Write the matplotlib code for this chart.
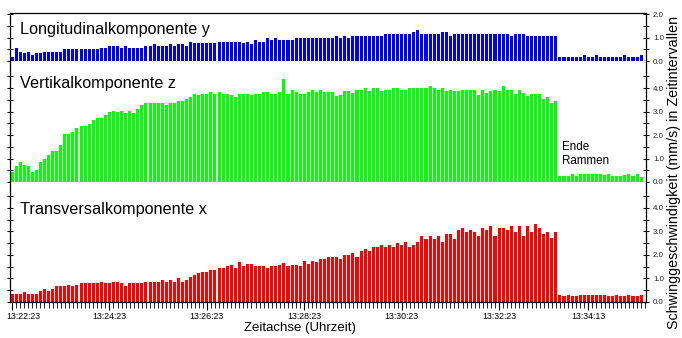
import numpy as np
import matplotlib
matplotlib.use('Agg')
import matplotlib.pyplot as plt
import matplotlib.transforms as mtransforms
from matplotlib.ticker import MultipleLocator, FormatStrFormatter

plt.rcParams['font.family'] = ['Liberation Sans', 'DejaVu Sans']

# one bar every 5 s, starting 13:22:23
interval_s = 5

long_y = [0.19, 0.57, 0.40, 0.33, 0.40, 0.26, 0.33, 0.33, 0.40, 0.40, 0.40, 0.40, 0.40,
          0.50, 0.50, 0.50, 0.50, 0.50, 0.50, 0.50, 0.50, 0.50,
          0.57, 0.57, 0.66, 0.66, 0.66, 0.57, 0.66, 0.57, 0.57, 0.57, 0.57,
          0.66, 0.66, 0.73, 0.66, 0.66, 0.66, 0.73, 0.66, 0.73, 0.73, 0.66,
          0.80, 0.76, 0.76, 0.76, 0.76, 0.76, 0.76,
          0.83, 0.83, 0.83, 0.83, 0.83, 0.83, 0.76, 0.80, 0.73, 0.90, 0.83, 0.83,
          0.97, 0.90, 0.97, 0.90, 0.90, 0.90, 0.90,
          1.00, 1.00, 1.00, 1.00, 1.00, 1.00, 1.00, 1.00, 1.00, 1.00, 1.09,
          1.00, 1.07, 1.00, 1.07, 1.07, 1.07, 1.07, 1.07, 1.07, 1.07, 1.07,
          1.16, 1.16, 1.16, 1.16, 1.16, 1.16, 1.16, 1.24, 1.33,
          1.16, 1.16, 1.16, 1.16, 1.16, 1.24, 1.24, 1.07,
          1.16, 1.16, 1.16, 1.16, 1.16, 1.16, 1.16, 1.16, 1.16, 1.16, 1.16, 1.16, 1.16, 1.16,
          1.07, 1.16, 1.16, 1.16, 1.07, 1.07, 1.07, 1.07, 1.07, 1.07, 1.07, 1.07,
          0.16, 0.16, 0.16, 0.16, 0.16, 0.16, 0.26, 0.16, 0.16, 0.26, 0.16,
          0.16, 0.16, 0.16, 0.16, 0.16, 0.26, 0.16, 0.16, 0.16, 0.26]

vert_z = [0.43, 0.67, 0.84, 0.71, 0.67, 0.43, 0.50, 0.84, 0.96, 1.14, 1.33, 1.33, 1.57,
          2.04, 2.04, 2.14, 2.29, 2.39, 2.39, 2.47, 2.64, 2.71, 2.71, 2.86, 2.96, 3.03,
          2.96, 3.03, 2.93, 3.03, 2.93, 3.10, 3.29, 3.36, 3.36, 3.36, 3.36, 3.36, 3.29,
          3.36, 3.36, 3.43, 3.43, 3.53, 3.61, 3.76, 3.69, 3.76, 3.76, 3.84, 3.76, 3.84,
          3.76, 3.76, 3.69, 3.61, 3.76, 3.76, 3.76, 3.69, 3.76, 3.76, 3.84, 3.84, 3.76,
          3.76, 3.84, 4.39, 3.76, 3.90, 3.84, 3.76, 3.76, 3.84, 3.90, 3.84, 3.90, 3.84,
          3.84, 3.84, 3.67,
          3.71, 3.86, 3.86, 3.79, 3.93, 3.93, 4.00, 3.86, 4.00, 4.00, 3.86, 3.93, 3.93,
          4.00, 4.00, 3.90, 3.90, 4.00, 4.00, 4.00, 4.00, 4.00, 4.07, 4.00, 3.90, 4.00,
          3.86, 3.90, 3.86, 3.86, 3.90, 3.90, 3.90, 3.90, 3.71, 3.90, 3.79, 3.86, 3.90,
          3.86, 4.07, 3.93,
          3.90, 3.76, 3.90, 3.79, 3.67, 3.76, 3.76, 3.76, 3.53, 3.61, 3.36, 3.43,
          0.24, 0.24, 0.24, 0.33, 0.26, 0.36, 0.36, 0.36, 0.36, 0.36, 0.33, 0.29, 0.33,
          0.26, 0.26, 0.26, 0.29, 0.36, 0.26, 0.36, 0.22]

trans_x = [0.34, 0.34, 0.34, 0.41, 0.34, 0.34, 0.34, 0.48, 0.56, 0.48, 0.56, 0.66, 0.66,
           0.66, 0.73, 0.66, 0.73,
           0.80, 0.80, 0.80, 0.80, 0.80, 0.87, 0.80, 0.80, 0.87, 0.87, 0.80, 0.70, 0.80,
           0.80, 0.80, 0.80,
           0.87, 0.87, 0.87, 0.87, 0.94, 0.87, 0.94, 0.87, 1.04, 0.87, 0.94,
           1.08, 1.15, 1.23, 1.27, 1.27, 1.37, 1.37, 1.44, 1.44, 1.51, 1.58, 1.44, 1.69,
           1.51, 1.61, 1.61, 1.51, 1.51, 1.51, 1.44, 1.51, 1.51, 1.58, 1.65, 1.51, 1.58,
           1.58, 1.51, 1.75, 1.61, 1.75, 1.69, 1.83, 1.83, 1.93, 1.93, 1.93,
           1.83, 2.00, 2.00, 2.07, 1.93, 2.17, 2.24, 2.17, 2.32, 2.32, 2.42, 2.32, 2.42,
           2.32, 2.49, 2.42, 2.56, 2.32, 2.42, 2.56, 2.82, 2.66, 2.82, 2.66, 2.82, 2.56,
           2.89, 2.89, 2.66, 3.06, 3.15, 2.99, 3.06, 2.99, 2.82, 3.15, 3.06, 3.23, 2.82,
           3.15, 3.15, 3.06, 3.23, 2.99, 3.23, 2.82, 3.23, 2.99, 3.30, 3.15, 2.89, 2.99,
           2.73, 2.99,
           0.31, 0.24, 0.31, 0.24, 0.24, 0.31, 0.31, 0.31, 0.31, 0.31, 0.31, 0.31, 0.24,
           0.24, 0.31, 0.24, 0.24, 0.31, 0.24, 0.24, 0.31]

tick_secs = [0, 120, 240, 360, 480, 600, 710]
tick_labels = ['13:22:23', '13:24:23', '13:26:23', '13:28:23', '13:30:23', '13:32:23', '13:34:13']

titles = ['Longitudinalkomponente y', 'Vertikalkomponente z', 'Transversalkomponente x']
colors = ['#0000ff', '#00ff00', '#ff0000']

W, H = 682, 338
fig = plt.figure(figsize=(W / 100, H / 100), dpi=100)


def panel(top, bottom):
    # axes placed by pixel rows of the original
    return fig.add_axes([10 / W, 1 - bottom / H, 636 / W, (bottom - top) / H])


ax_y = panel(13, 61)
ax_z = panel(61, 182)
ax_x = panel(182, 302)
axes = [ax_y, ax_z, ax_x]
series = [long_y, vert_z, trans_x]
ytops = [2.06, 5.15, 5.1]
ymaj = [[0, 1, 2], [0, 1, 2, 3, 4], [0, 1, 2, 3, 4]]
ymin = [np.arange(0, 2.01, 0.5), np.arange(0, 4.51, 0.5), np.arange(0, 4.51, 0.5)]

for i, ax in enumerate(axes):
    vals = np.array(series[i])
    t = np.arange(len(vals)) * interval_s
    ax.bar(t, vals, width=3.75, color=colors[i], linewidth=0)
    ax.set_xlim(-2.5, 781)
    ax.set_ylim(0, ytops[i])
    ax.set_yticks(ymaj[i])
    ax.set_yticks(ymin[i], minor=True)
    ax.yaxis.set_major_formatter(FormatStrFormatter('%.1f'))
    ax.tick_params(axis='y', which='both', left=True, right=True, labelleft=False,
                   labelright=True, direction='inout', length=4, width=0.8,
                   labelsize=5.7, labelcolor='#222222', pad=3)
    ax.spines['top'].set_visible(i == 0)
    ax.spines['bottom'].set_visible(i == 2)
    for s in ax.spines.values():
        s.set_linewidth(0.9)
    if i < 2:
        ax.tick_params(axis='x', which='both', bottom=False, labelbottom=False)

ax_x.set_xticks(tick_secs)
ax_x.set_xticklabels(tick_labels)
ax_x.xaxis.set_minor_locator(MultipleLocator(interval_s))
ax_x.tick_params(axis='x', which='major', direction='out', length=6, width=0.8,
                 labelsize=6.3, pad=1)
ax_x.tick_params(axis='x', which='minor', direction='out', length=4, width=0.6)
first = ax_x.get_xticklabels()[0]
first.set_horizontalalignment('left')
first.set_transform(first.get_transform() +
                    mtransforms.ScaledTranslation(-5.5 / 100, 0, fig.dpi_scale_trans))

# panel titles, baselines taken from the original
for txt, base in zip(titles, [34, 88, 214]):
    fig.text(20 / W, 1 - base / H, txt, fontsize=11.7, va='baseline', ha='left')

fig.text(562 / W, 1 - 150 / H, 'Ende', fontsize=8.4, va='baseline')
fig.text(562 / W, 1 - 164.5 / H, 'Rammen', fontsize=8.4, va='baseline')

fig.text(300 / W, 1 - 328 / H, 'Zeitachse (Uhrzeit)', fontsize=9.5, ha='center', va='center')
fig.text(674 / W, 1 - 172 / H, 'Schwinggeschwindigkeit (mm/s) in Zeitintervallen',
         fontsize=10.3, rotation=90, ha='center', va='center')

fig.savefig('out.png', dpi=100)
